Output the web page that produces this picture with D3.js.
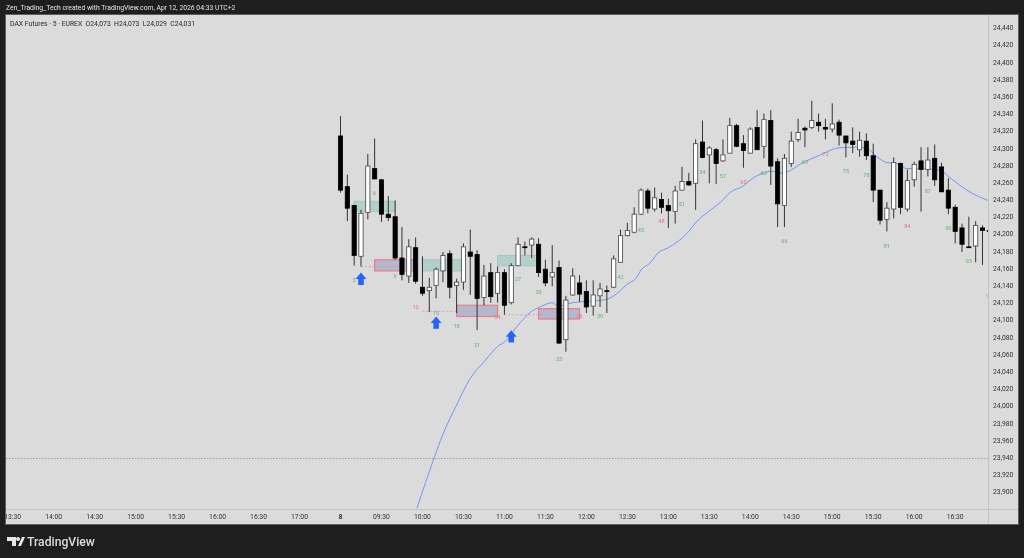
<!DOCTYPE html>
<html><head><meta charset="utf-8">
<script src="https://cdn.jsdelivr.net/npm/d3@7"></script>
<style>html,body{margin:0;padding:0;background:#1e1e1e;overflow:hidden}svg{display:block;filter:blur(.35px)}text{font-family:Roboto,"Liberation Sans",sans-serif}</style>
</head><body><svg id="c" width="1024" height="558"></svg>
<script>
// bars: [open, high, low, close]
const bars=[
[24314,24337,24248,24251],[24255,24269,24215,24230],[24233,24234,24163,24175],[24174,24228,24162,24224],
[24225,24293,24217,24279],[24276,24311,24264,24264],[24263,24264,24214,24223],[24223,24244,24215,24219],
[24220,24239,24170,24172],[24172,24208,24146,24153],[24151,24194,24143,24185],[24184,24196,24142,24145],
[24138,24174,24128,24131],[24134,24149,24109,24138],[24140,24161,24125,24159],[24157,24179,24144,24175],
[24177,24181,24125,24138],[24140,24148,24108,24144],[24144,24189,24135,24185],[24179,24205,24129,24174],
[24176,24181,24088,24125],[24126,24164,24117,24151],[24155,24166,24120,24127],[24131,24162,24120,24155],
[24155,24159,24106,24117],[24120,24166,24118,24163],[24163,24196,24163,24188],[24185,24191,24175,24184],
[24187,24196,24172,24194],[24188,24195,24150,24155],[24159,24170,24139,24143],[24150,24187,24139,24155],
[24161,24169,24072,24073],[24077,24128,24063,24123],[24129,24160,24128,24151],[24143,24152,24121,24130],
[24133,24146,24108,24115],[24116,24146,24105,24129],[24128,24143,24115,24136],[24134,24140,24108,24133],
[24138,24175,24137,24171],[24167,24205,24167,24198],[24198,24213,24197,24204],[24202,24231,24201,24223],
[24223,24253,24222,24251],[24250,24253,24224,24230],[24229,24254,24226,24242],[24240,24248,24224,24231],
[24233,24241,24207,24227],[24226,24256,24212,24250],[24251,24278,24251,24261],[24261,24271,24256,24257],
[24259,24310,24228,24305],[24307,24332,24288,24289],[24292,24302,24259,24300],[24298,24300,24258,24282],
[24285,24310,24284,24292],[24294,24335,24294,24326],[24326,24328,24301,24302],[24305,24315,24277,24297],
[24294,24324,24294,24322],[24324,24344,24298,24298],[24302,24340,24288,24333],[24332,24344,24257,24279],
[24284,24288,24208,24235],[24233,24293,24208,24288],[24282,24319,24278,24308],[24310,24334,24307,24318],
[24323,24325,24301,24321],[24324,24355,24322,24332],[24330,24340,24319,24326],[24324,24334,24310,24322],
[24322,24352,24318,24328],[24330,24333,24303,24315],[24314,24314,24289,24306],[24308,24324,24294,24304],
[24298,24319,24290,24309],[24308,24317,24286,24291],[24291,24305,24237,24251],[24251,24251,24211,24216],
[24217,24237,24203,24230],[24229,24289,24218,24283],[24282,24283,24223,24231],[24229,24275,24226,24262],
[24263,24284,24255,24281],[24285,24301,24226,24275],[24275,24301,24267,24286],[24288,24304,24256,24263],
[24278,24283,24249,24249],[24251,24265,24223,24230],[24231,24234,24189,24203],[24207,24212,24179,24188],
[24185,24220,24184,24184],[24186,24215,24167,24210],[24207,24210,24164,24204],[24204,24205,24202,24203]
];
const emaBars=[11.2,13.6,15,17,19,21.2,23,24.1,25.8,28,29.2,31,31.9,34,37,39,40.2,41.9,43.4,44,45.3,46.5,48,51,52,54.2,55.8,57,59,60.2,62,63,64.5,65.3,67.7,70.3,72.8,75.6,77,78.5,80,81.4,82.9,85,87.8,89.3,91.9,94.8];
const emaVals=[23881,23937,23967,24001,24032,24053,24069,24075,24092,24110,24115,24120,24116,24120,24122,24124,24129,24141,24150,24158,24166,24178,24184,24203,24213,24228,24238,24248,24256,24264,24271,24273,24271,24272,24283,24292,24300,24301,24300,24290,24283,24282,24276,24276,24274,24265,24250,24239];
const priceTicks=d3.range(23900,24441,20);
const timeLabels=["13:30","14:00","14:30","15:00","15:30","16:00","16:30","17:00","8","09:30","10:00","10:30","11:00","11:30","12:00","12:30","13:00","13:30","14:00","14:30","15:00","15:30","16:00","16:30"];
const timeBars=[-48,-42,-36,-30,-24,-18,-12,-6,0,6,12,18,24,30,36,42,48,54,60,66,72,78,84,90];
const labelNums=[3,6,9,12,15,18,21,24,27,30,33,36,39,42,45,48,51,54,57,60,63,66,69,72,75,78,81,84,87,90,93,96];
const labelPrices=[24146,24248,24151,24115,24108,24093,24071,24103,24148,24132,24055,24105,24105,24150,24205,24215,24235,24272,24267,24261,24271,24192,24284,24293,24273,24269,24186,24209,24250,24207,24168,24128];
const labelRed=[12,24,36,48,60,72,84,96];
const greenBoxes=[[2,8,24238,24226],[12,18,24170,24157],[23,29,24175,24163]];
const purpleBoxes=[[5,11,24170,24157],[17,23,24117,24104],[29,35,24113,24101]];
const dashLines=[[3,10,24162],[12,20,24110],[24,30,24106]];
const arrowBars=[3,14,25];
const arrowPrices=[24155,24104,24088];
const flatPrice=23939;
const title="Zen_Trading_Tech created with TradingView.com, Apr 12, 2026 04:33 UTC+2";
const legend="DAX Futures · 5 · EUREX  O24,073  H24,073  L24,029  C24,031";

const L=6,R=988,T=15,B=509,AXR=1018,AXB=524;
const svg=d3.select("#c");
const x=d3.scaleLinear().domain([0,94]).range([340.5,982.5]);
const y=d3.scaleLinear().domain([24300,24120]).range([148,302.7]);
svg.append("rect").attr("width",1024).attr("height",558).attr("fill","#1e1e1e");
svg.append("rect").attr("x",L-.5).attr("y",T-.5).attr("width",AXR-L+1).attr("height",AXB-T+1).attr("fill","#dbdbdb").attr("stroke","#5e5e5e");
svg.append("line").attr("x1",R+.5).attr("x2",R+.5).attr("y1",T).attr("y2",AXB).attr("stroke","#c4c4c4");
svg.append("line").attr("x1",L).attr("x2",AXR).attr("y1",B+.5).attr("y2",B+.5).attr("stroke","#c4c4c4");
svg.append("text").attr("x",6).attr("y",10).attr("font-size",6.8).attr("fill","#e6e6e6").text(title);
svg.append("text").attr("x",10).attr("y",25.5).attr("font-size",6.8).attr("fill","#2a2a2a").attr("xml:space","preserve").style("white-space","pre").text(legend);

svg.append("clipPath").attr("id","p").append("rect").attr("x",L).attr("y",T).attr("width",R-L).attr("height",B-T);
const g=svg.append("g").attr("clip-path","url(#p)");

g.append("line").attr("x1",L).attr("x2",R).attr("y1",Math.round(y(flatPrice))+.5).attr("y2",Math.round(y(flatPrice))+.5)
 .attr("stroke","#a0a0a0").attr("stroke-dasharray","1.5 1.5");

g.selectAll(".gb").data(greenBoxes).join("rect").attr("x",d=>x(d[0])).attr("width",d=>x(d[1])-x(d[0]))
 .attr("y",d=>y(d[2])).attr("height",d=>y(d[3])-y(d[2])).attr("fill","#b3cfc9").attr("stroke","#a6c6bf");
g.selectAll(".pb").data(purpleBoxes).join("rect").attr("x",d=>x(d[0])).attr("width",d=>x(d[1])-x(d[0]))
 .attr("y",d=>y(d[2])).attr("height",d=>y(d[3])-y(d[2])).attr("fill","#b3b8cf").attr("stroke","#ef7b85").attr("stroke-width",1.2);
g.selectAll(".dl").data(dashLines).join("line").attr("x1",d=>x(d[0])).attr("x2",d=>x(d[1])).attr("y1",d=>y(d[2])).attr("y2",d=>y(d[2]))
 .attr("stroke","#f28d95").attr("stroke-dasharray","2 2").attr("stroke-width",.8);

const pts=emaBars.map((b,i)=>[b,emaVals[i]]);
g.append("path").attr("d",d3.line().x(d=>x(d[0])).y(d=>y(d[1])).curve(d3.curveMonotoneX)(pts))
 .attr("fill","none").attr("stroke","#6f98f2").attr("stroke-width",1);

const bw=4.2;
const c=g.selectAll(".bar").data(bars).join("g");
c.append("line").attr("x1",(d,i)=>x(i)).attr("x2",(d,i)=>x(i)).attr("y1",d=>y(d[1])).attr("y2",d=>y(d[2])).attr("stroke","#333").attr("stroke-width",1);
c.append("rect").attr("x",(d,i)=>x(i)-bw/2).attr("width",bw)
 .attr("y",d=>y(Math.max(d[0],d[3]))).attr("height",d=>Math.max(.8,Math.abs(y(d[0])-y(d[3]))))
 .attr("fill",d=>d[3]>d[0]?"#fff":"#000").attr("stroke",d=>d[3]>d[0]?"#444":"#000").attr("stroke-width",.8);

g.selectAll(".lab").data(labelNums).join("text").attr("x",d=>x(d-1)).attr("y",(d,i)=>y(labelPrices[i])+2)
 .attr("text-anchor","middle").attr("font-size",5.6)
 .attr("fill",d=>labelRed.includes(d)?"#f0717b":"#63b56a").text(d=>d);

g.selectAll(".ar").data(arrowBars).join("path")
 .attr("transform",(d,i)=>`translate(${x(d)},${y(arrowPrices[i])})`)
 .attr("d","M0,0L5.5,6.5L2.8,6.5L2.8,12.3L-2.8,12.3L-2.8,6.5L-5.5,6.5Z").attr("fill","#2962ff");

const ya=svg.append("g");
ya.selectAll("text").data(priceTicks).join("text").attr("x",993).attr("y",d=>y(d)+2.5)
 .attr("font-size",6.8).attr("fill","#333").text(d=>d3.format(",")(d));
const xa=svg.append("g");
xa.selectAll("text").data(timeLabels).join("text").attr("x",(d,i)=>x(timeBars[i])).attr("y",519)
 .attr("text-anchor","middle").attr("font-size",6.8).attr("font-weight",d=>d==="8"?700:400).attr("fill","#333").text(d=>d);
svg.append("clipPath").attr("id","xc").append("rect").attr("x",L).attr("y",B).attr("width",R-L).attr("height",AXB-B);
xa.attr("clip-path","url(#xc)");

svg.append("text").attr("x",27).attr("y",545.5).attr("font-size",12.2).attr("font-weight",500).attr("fill","#dcdcdc").text("TradingView");
svg.append("path").attr("d","M7,537H16V546H12V541H7ZM18,537A2,2 0 1 1 18,541A2,2 0 1 1 18,537ZM22,537H25L21,546H18Z").attr("fill","#e6e6e6");
</script></body></html>
